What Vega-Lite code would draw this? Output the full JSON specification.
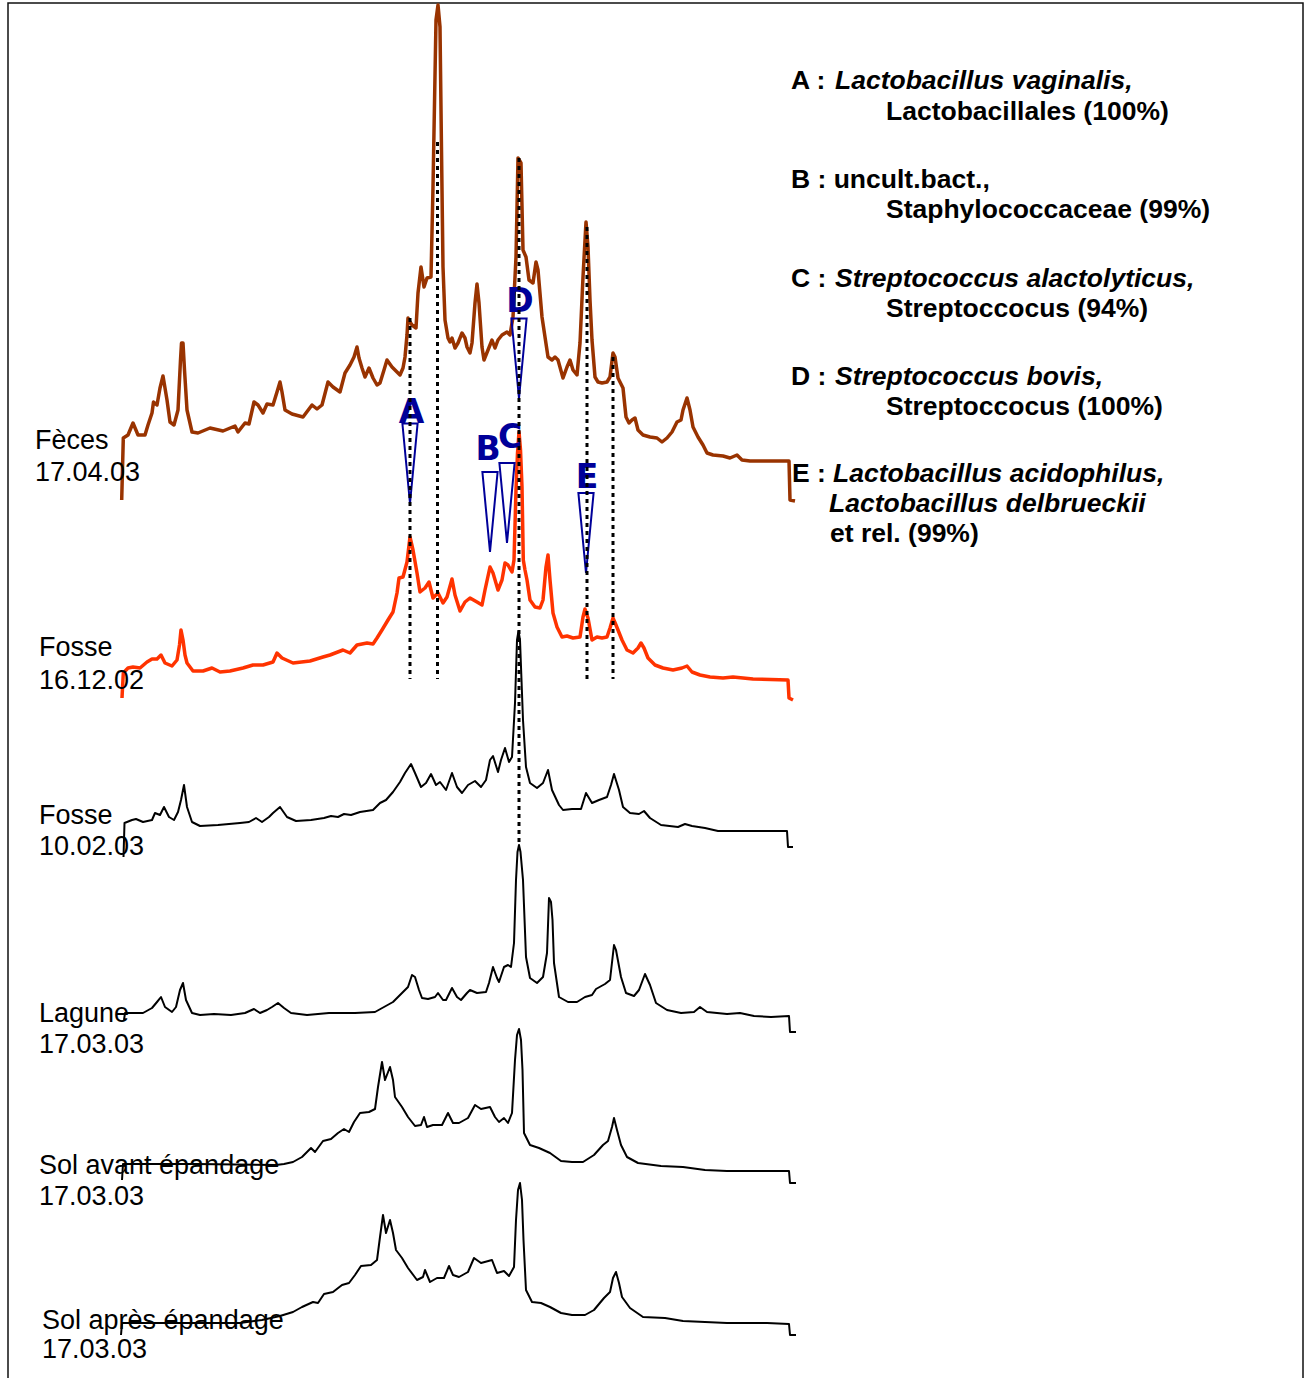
{
  "$schema": "https://vega.github.io/schema/vega-lite/v6.json",
  "width": 1295,
  "height": 1377,
  "padding": {"left": 8, "top": 3, "right": 6, "bottom": 0},
  "autosize": {"type": "none"},
  "background": "white",
  "config": {"view": {"stroke": "#111111", "strokeWidth": 1.5}},
  "datasets": {
    "feces": [
      {"mig":121.7,"level":500},{"mig":123.3,"level":438},{"mig":128,"level":435},{"mig":133,"level":423},{"mig":138,"level":435},{"mig":145,"level":435},{"mig":148,"level":425},{"mig":152,"level":413},{"mig":153.5,"level":402},{"mig":157,"level":405},{"mig":160,"level":388},{"mig":163,"level":376},{"mig":167,"level":400},{"mig":170,"level":422},{"mig":174,"level":425},{"mig":178,"level":410},{"mig":180.5,"level":360},{"mig":181.5,"level":343},{"mig":183,"level":343},{"mig":184.5,"level":370},{"mig":187,"level":410},{"mig":192,"level":432},{"mig":198,"level":433},{"mig":210,"level":428},{"mig":223,"level":431},{"mig":235,"level":426},{"mig":238,"level":432},{"mig":245,"level":423},{"mig":249,"level":424},{"mig":254,"level":402},{"mig":258,"level":405},{"mig":263,"level":413},{"mig":267,"level":404},{"mig":273,"level":405},{"mig":277,"level":392},{"mig":280,"level":382},{"mig":282,"level":392},{"mig":285,"level":410},{"mig":292,"level":414},{"mig":303,"level":417},{"mig":312,"level":405},{"mig":317,"level":409},{"mig":322,"level":405},{"mig":328,"level":382},{"mig":333,"level":387},{"mig":340,"level":392},{"mig":345,"level":373},{"mig":350,"level":365},{"mig":354,"level":357},{"mig":357,"level":347},{"mig":359,"level":358},{"mig":362,"level":368},{"mig":365,"level":377},{"mig":369,"level":368},{"mig":373,"level":378},{"mig":377,"level":385},{"mig":380,"level":383},{"mig":384,"level":370},{"mig":387,"level":360},{"mig":392,"level":367},{"mig":400,"level":375},{"mig":403,"level":368},{"mig":405,"level":357},{"mig":407,"level":335},{"mig":408,"level":318},{"mig":410,"level":322},{"mig":412,"level":325},{"mig":416,"level":328},{"mig":418,"level":293},{"mig":421,"level":267},{"mig":424,"level":287},{"mig":427,"level":278},{"mig":431,"level":277},{"mig":433,"level":187},{"mig":436,"level":20},{"mig":438,"level":5},{"mig":440,"level":27},{"mig":441.5,"level":150},{"mig":443,"level":267},{"mig":445,"level":320},{"mig":448,"level":338},{"mig":450,"level":342},{"mig":452,"level":338},{"mig":455,"level":348},{"mig":458,"level":343},{"mig":462,"level":333},{"mig":465,"level":338},{"mig":467,"level":347},{"mig":470,"level":353},{"mig":472,"level":343},{"mig":475,"level":303},{"mig":477,"level":284},{"mig":479,"level":303},{"mig":482,"level":347},{"mig":484,"level":360},{"mig":488,"level":350},{"mig":492,"level":340},{"mig":495,"level":348},{"mig":498,"level":340},{"mig":502,"level":335},{"mig":507,"level":332},{"mig":510,"level":335},{"mig":513,"level":317},{"mig":516,"level":257},{"mig":518,"level":158},{"mig":521,"level":163},{"mig":523,"level":250},{"mig":526,"level":257},{"mig":529,"level":280},{"mig":533,"level":283},{"mig":536,"level":262},{"mig":538,"level":270},{"mig":542,"level":317},{"mig":545,"level":337},{"mig":548,"level":357},{"mig":552,"level":360},{"mig":555,"level":357},{"mig":558,"level":360},{"mig":563,"level":378},{"mig":567,"level":367},{"mig":570,"level":360},{"mig":573,"level":370},{"mig":577,"level":375},{"mig":580,"level":343},{"mig":583,"level":277},{"mig":586,"level":222},{"mig":588,"level":247},{"mig":590,"level":300},{"mig":592,"level":340},{"mig":595,"level":377},{"mig":598,"level":382},{"mig":602,"level":383},{"mig":607,"level":382},{"mig":610,"level":377},{"mig":613,"level":353},{"mig":615,"level":357},{"mig":618,"level":378},{"mig":623,"level":388},{"mig":626,"level":417},{"mig":629,"level":423},{"mig":632,"level":420},{"mig":635,"level":418},{"mig":638,"level":430},{"mig":643,"level":435},{"mig":650,"level":437},{"mig":657,"level":438},{"mig":662,"level":442},{"mig":667,"level":438},{"mig":672,"level":432},{"mig":677,"level":422},{"mig":681,"level":420},{"mig":683,"level":410},{"mig":687,"level":398},{"mig":690,"level":410},{"mig":693,"level":427},{"mig":698,"level":437},{"mig":703,"level":445},{"mig":707,"level":453},{"mig":713,"level":455},{"mig":723,"level":456},{"mig":730,"level":458},{"mig":737,"level":455},{"mig":742,"level":460},{"mig":750,"level":461},{"mig":763,"level":461},{"mig":789,"level":461},{"mig":790,"level":500},{"mig":795,"level":501}
    ],
    "fosse1612": [
      {"mig":122,"level":698},{"mig":123.3,"level":673},{"mig":128,"level":668},{"mig":133,"level":667},{"mig":140,"level":668},{"mig":147,"level":662},{"mig":152,"level":659},{"mig":157,"level":659},{"mig":161,"level":655},{"mig":165,"level":663},{"mig":172,"level":666},{"mig":177,"level":660},{"mig":179.5,"level":645},{"mig":181,"level":630},{"mig":183,"level":640},{"mig":185,"level":655},{"mig":187,"level":663},{"mig":193,"level":671},{"mig":203,"level":671},{"mig":212,"level":668},{"mig":220,"level":672},{"mig":230,"level":671},{"mig":243,"level":668},{"mig":253,"level":665},{"mig":263,"level":665},{"mig":273,"level":662},{"mig":277,"level":653},{"mig":282,"level":658},{"mig":293,"level":663},{"mig":310,"level":661},{"mig":323,"level":657},{"mig":330,"level":655},{"mig":343,"level":650},{"mig":350,"level":653},{"mig":357,"level":645},{"mig":367,"level":643},{"mig":373,"level":644},{"mig":377,"level":638},{"mig":382,"level":630},{"mig":388,"level":620},{"mig":393,"level":612},{"mig":397,"level":593},{"mig":399,"level":578},{"mig":403,"level":577},{"mig":407,"level":562},{"mig":410,"level":537},{"mig":413,"level":550},{"mig":417,"level":573},{"mig":420,"level":592},{"mig":425,"level":588},{"mig":429,"level":582},{"mig":433,"level":598},{"mig":438,"level":593},{"mig":443,"level":603},{"mig":447,"level":597},{"mig":452,"level":579},{"mig":455,"level":595},{"mig":460,"level":611},{"mig":465,"level":602},{"mig":470,"level":598},{"mig":477,"level":602},{"mig":482,"level":605},{"mig":485,"level":590},{"mig":490,"level":567},{"mig":493,"level":573},{"mig":498,"level":590},{"mig":502,"level":580},{"mig":505,"level":563},{"mig":508,"level":565},{"mig":512,"level":572},{"mig":514,"level":560},{"mig":516,"level":490},{"mig":517.5,"level":453},{"mig":519,"level":432},{"mig":520.5,"level":450},{"mig":522,"level":487},{"mig":523.3,"level":560},{"mig":525,"level":570},{"mig":527,"level":580},{"mig":530,"level":600},{"mig":535,"level":607},{"mig":540,"level":608},{"mig":543,"level":600},{"mig":546,"level":567},{"mig":548,"level":555},{"mig":550,"level":580},{"mig":553,"level":613},{"mig":557,"level":627},{"mig":562,"level":637},{"mig":567,"level":636},{"mig":573,"level":638},{"mig":580,"level":637},{"mig":583,"level":617},{"mig":585,"level":609},{"mig":588,"level":618},{"mig":592,"level":640},{"mig":597,"level":637},{"mig":602,"level":638},{"mig":607,"level":637},{"mig":610,"level":628},{"mig":613,"level":618},{"mig":616,"level":625},{"mig":622,"level":640},{"mig":627,"level":650},{"mig":633,"level":653},{"mig":638,"level":648},{"mig":641,"level":643},{"mig":644,"level":648},{"mig":648,"level":658},{"mig":655,"level":665},{"mig":663,"level":668},{"mig":673,"level":670},{"mig":682,"level":668},{"mig":687,"level":666},{"mig":692,"level":672},{"mig":700,"level":675},{"mig":710,"level":677},{"mig":723,"level":678},{"mig":733,"level":677},{"mig":753,"level":679},{"mig":788,"level":680},{"mig":789,"level":698},{"mig":793,"level":700}
    ],
    "fosse1002": [
      {"mig":123.5,"level":857},{"mig":124.5,"level":823},{"mig":132,"level":820},{"mig":136,"level":819},{"mig":143,"level":822},{"mig":152,"level":820},{"mig":155,"level":813},{"mig":160,"level":815},{"mig":164,"level":807},{"mig":169,"level":817},{"mig":174,"level":820},{"mig":178,"level":812},{"mig":181,"level":800},{"mig":184,"level":785},{"mig":187,"level":807},{"mig":192,"level":822},{"mig":200,"level":826},{"mig":218,"level":825},{"mig":240,"level":823},{"mig":249,"level":822},{"mig":256,"level":818},{"mig":262,"level":822},{"mig":269,"level":817},{"mig":273,"level":813},{"mig":280,"level":807},{"mig":287,"level":817},{"mig":296,"level":821},{"mig":311,"level":820},{"mig":324,"level":818},{"mig":331,"level":816},{"mig":338,"level":817},{"mig":344,"level":814},{"mig":351,"level":815},{"mig":360,"level":812},{"mig":373,"level":810},{"mig":380,"level":803},{"mig":386,"level":800},{"mig":393,"level":792},{"mig":400,"level":782},{"mig":405,"level":773},{"mig":411,"level":764},{"mig":415,"level":773},{"mig":421,"level":787},{"mig":426,"level":783},{"mig":431,"level":774},{"mig":436,"level":785},{"mig":440,"level":782},{"mig":446,"level":790},{"mig":452,"level":773},{"mig":457,"level":787},{"mig":462,"level":793},{"mig":468,"level":785},{"mig":475,"level":781},{"mig":481,"level":787},{"mig":486,"level":780},{"mig":490,"level":760},{"mig":493,"level":756},{"mig":498,"level":772},{"mig":501,"level":760},{"mig":505,"level":748},{"mig":509,"level":762},{"mig":512,"level":757},{"mig":515,"level":703},{"mig":517,"level":640},{"mig":518.5,"level":631},{"mig":520,"level":640},{"mig":523,"level":720},{"mig":526,"level":767},{"mig":530,"level":783},{"mig":537,"level":788},{"mig":543,"level":783},{"mig":548,"level":770},{"mig":552,"level":790},{"mig":559,"level":805},{"mig":563,"level":810},{"mig":572,"level":809},{"mig":581,"level":809},{"mig":586,"level":793},{"mig":592,"level":803},{"mig":599,"level":800},{"mig":607,"level":797},{"mig":611,"level":785},{"mig":614,"level":774},{"mig":619,"level":790},{"mig":623,"level":807},{"mig":630,"level":813},{"mig":639,"level":814},{"mig":644,"level":811},{"mig":650,"level":818},{"mig":661,"level":825},{"mig":678,"level":827},{"mig":685,"level":824},{"mig":692,"level":826},{"mig":705,"level":828},{"mig":718,"level":831},{"mig":749,"level":831},{"mig":787,"level":831},{"mig":788,"level":847},{"mig":793,"level":847}
    ],
    "lagune": [
      {"mig":124,"level":1020},{"mig":125,"level":1013},{"mig":143,"level":1013},{"mig":152,"level":1008},{"mig":157,"level":1002},{"mig":161,"level":997},{"mig":165,"level":1007},{"mig":172,"level":1012},{"mig":176,"level":1007},{"mig":180,"level":990},{"mig":183,"level":983},{"mig":186,"level":1000},{"mig":192,"level":1013},{"mig":200,"level":1015},{"mig":214,"level":1014},{"mig":231,"level":1015},{"mig":245,"level":1013},{"mig":254,"level":1009},{"mig":260,"level":1013},{"mig":267,"level":1010},{"mig":272,"level":1007},{"mig":278,"level":1003},{"mig":284,"level":1008},{"mig":291,"level":1013},{"mig":307,"level":1015},{"mig":329,"level":1013},{"mig":355,"level":1013},{"mig":375,"level":1012},{"mig":384,"level":1007},{"mig":393,"level":1002},{"mig":402,"level":993},{"mig":408,"level":987},{"mig":412,"level":975},{"mig":415,"level":977},{"mig":419,"level":990},{"mig":422,"level":998},{"mig":428,"level":999},{"mig":435,"level":997},{"mig":438,"level":993},{"mig":443,"level":1000},{"mig":446,"level":1000},{"mig":452,"level":988},{"mig":457,"level":997},{"mig":461,"level":1000},{"mig":467,"level":993},{"mig":470,"level":990},{"mig":477,"level":993},{"mig":486,"level":992},{"mig":489,"level":983},{"mig":493,"level":967},{"mig":497,"level":978},{"mig":499,"level":982},{"mig":504,"level":967},{"mig":508,"level":965},{"mig":511,"level":967},{"mig":514,"level":943},{"mig":516,"level":880},{"mig":517.5,"level":852},{"mig":519,"level":845},{"mig":520.5,"level":852},{"mig":523,"level":880},{"mig":526,"level":957},{"mig":530,"level":978},{"mig":537,"level":983},{"mig":543,"level":977},{"mig":547,"level":953},{"mig":549,"level":898},{"mig":551,"level":902},{"mig":552.5,"level":920},{"mig":554,"level":963},{"mig":559,"level":997},{"mig":568,"level":1002},{"mig":577,"level":1002},{"mig":585,"level":997},{"mig":592,"level":995},{"mig":596,"level":989},{"mig":605,"level":984},{"mig":610,"level":980},{"mig":614,"level":945},{"mig":616,"level":950},{"mig":621,"level":977},{"mig":626,"level":993},{"mig":634,"level":996},{"mig":639,"level":990},{"mig":645,"level":974},{"mig":650,"level":985},{"mig":656,"level":1003},{"mig":667,"level":1010},{"mig":681,"level":1013},{"mig":694,"level":1012},{"mig":700,"level":1007},{"mig":707,"level":1012},{"mig":727,"level":1014},{"mig":740,"level":1013},{"mig":754,"level":1016},{"mig":771,"level":1017},{"mig":789,"level":1016},{"mig":790,"level":1032},{"mig":796,"level":1032}
    ],
    "solAvant": [
      {"mig":122,"level":1180},{"mig":123,"level":1164},{"mig":196,"level":1164},{"mig":276,"level":1165},{"mig":284,"level":1164},{"mig":293,"level":1162},{"mig":302,"level":1157},{"mig":311,"level":1148},{"mig":315,"level":1152},{"mig":323,"level":1141},{"mig":331,"level":1139},{"mig":338,"level":1133},{"mig":344,"level":1129},{"mig":349,"level":1132},{"mig":354,"level":1122},{"mig":360,"level":1113},{"mig":369,"level":1112},{"mig":375,"level":1109},{"mig":378,"level":1087},{"mig":382,"level":1062},{"mig":385,"level":1080},{"mig":390,"level":1067},{"mig":393,"level":1080},{"mig":395,"level":1097},{"mig":402,"level":1107},{"mig":408,"level":1117},{"mig":415,"level":1126},{"mig":421,"level":1125},{"mig":424,"level":1117},{"mig":427,"level":1127},{"mig":433,"level":1125},{"mig":442,"level":1125},{"mig":448,"level":1113},{"mig":453,"level":1123},{"mig":459,"level":1123},{"mig":468,"level":1118},{"mig":475,"level":1105},{"mig":481,"level":1109},{"mig":490,"level":1107},{"mig":495,"level":1117},{"mig":499,"level":1122},{"mig":504,"level":1118},{"mig":508,"level":1123},{"mig":512,"level":1113},{"mig":515,"level":1060},{"mig":517,"level":1035},{"mig":519,"level":1029},{"mig":521,"level":1040},{"mig":522.5,"level":1070},{"mig":524,"level":1133},{"mig":530,"level":1145},{"mig":539,"level":1148},{"mig":550,"level":1153},{"mig":561,"level":1161},{"mig":572,"level":1162},{"mig":583,"level":1162},{"mig":594,"level":1155},{"mig":603,"level":1145},{"mig":608,"level":1141},{"mig":612,"level":1127},{"mig":614,"level":1118},{"mig":617,"level":1130},{"mig":621,"level":1145},{"mig":627,"level":1157},{"mig":638,"level":1163},{"mig":661,"level":1166},{"mig":683,"level":1167},{"mig":705,"level":1170},{"mig":727,"level":1171},{"mig":767,"level":1171},{"mig":789,"level":1171},{"mig":790,"level":1183},{"mig":796,"level":1183}
    ],
    "solApres": [
      {"mig":121,"level":1335},{"mig":122,"level":1323},{"mig":240,"level":1323},{"mig":262,"level":1320},{"mig":280,"level":1316},{"mig":293,"level":1312},{"mig":302,"level":1307},{"mig":313,"level":1302},{"mig":318,"level":1303},{"mig":324,"level":1294},{"mig":333,"level":1292},{"mig":342,"level":1285},{"mig":349,"level":1283},{"mig":355,"level":1275},{"mig":361,"level":1266},{"mig":371,"level":1265},{"mig":377,"level":1260},{"mig":380,"level":1237},{"mig":383,"level":1215},{"mig":386,"level":1233},{"mig":390,"level":1220},{"mig":393,"level":1233},{"mig":396,"level":1250},{"mig":402,"level":1258},{"mig":408,"level":1268},{"mig":417,"level":1280},{"mig":423,"level":1277},{"mig":425,"level":1270},{"mig":430,"level":1282},{"mig":437,"level":1278},{"mig":444,"level":1278},{"mig":449,"level":1266},{"mig":453,"level":1275},{"mig":459,"level":1277},{"mig":468,"level":1272},{"mig":474,"level":1258},{"mig":481,"level":1263},{"mig":492,"level":1260},{"mig":497,"level":1273},{"mig":504,"level":1271},{"mig":509,"level":1276},{"mig":514,"level":1267},{"mig":516,"level":1220},{"mig":518,"level":1190},{"mig":520,"level":1183},{"mig":522,"level":1200},{"mig":523.5,"level":1240},{"mig":526,"level":1290},{"mig":532,"level":1302},{"mig":541,"level":1303},{"mig":550,"level":1307},{"mig":561,"level":1313},{"mig":572,"level":1315},{"mig":585,"level":1315},{"mig":594,"level":1310},{"mig":604,"level":1298},{"mig":610,"level":1292},{"mig":613,"level":1278},{"mig":616,"level":1272},{"mig":619,"level":1283},{"mig":622,"level":1297},{"mig":630,"level":1308},{"mig":643,"level":1317},{"mig":665,"level":1318},{"mig":683,"level":1321},{"mig":705,"level":1322},{"mig":727,"level":1323},{"mig":767,"level":1323},{"mig":789,"level":1324},{"mig":790,"level":1335},{"mig":796,"level":1335}
    ],
    "bandLines": [
      {"mig":410,"level":318,"level2":679},
      {"mig":437.5,"level":142,"level2":679},
      {"mig":519,"level":158,"level2":843},
      {"mig":587,"level":227,"level2":679},
      {"mig":613,"level":357,"level2":679}
    ],
    "bandMarkers": [
      {"band":"A","mig":410,"level":463.5},
      {"band":"B","mig":490,"level":512},
      {"band":"C","mig":507,"level":503},
      {"band":"D","mig":519,"level":358.5},
      {"band":"E","mig":586,"level":533}
    ],
    "bandLetters": [
      {"band":"A","mig":411.5,"level":423},
      {"band":"B","mig":488,"level":460},
      {"band":"C","mig":510,"level":448},
      {"band":"D","mig":520,"level":312},
      {"band":"E","mig":587,"level":488}
    ],
    "sampleNames": [
      {"label":"Fèces","mig":35,"level":449},
      {"label":"17.04.03","mig":35,"level":481},
      {"label":"Fosse","mig":39,"level":656},
      {"label":"16.12.02","mig":39,"level":689},
      {"label":"Fosse","mig":39,"level":824},
      {"label":"10.02.03","mig":39,"level":855},
      {"label":"Lagune","mig":39,"level":1022},
      {"label":"17.03.03","mig":39,"level":1053},
      {"label":"Sol avant épandage","mig":39,"level":1174},
      {"label":"17.03.03","mig":39,"level":1205},
      {"label":"Sol après épandage","mig":42,"level":1329},
      {"label":"17.03.03","mig":42,"level":1358}
    ],
    "keyUpright": [
      {"label":"A :","mig":791,"level":89},
      {"label":"Lactobacillales (100%)","mig":886,"level":120},
      {"label":"B : uncult.bact.,","mig":791,"level":188},
      {"label":"Staphylococcaceae (99%)","mig":886,"level":218},
      {"label":"C :","mig":791,"level":287},
      {"label":"Streptoccocus (94%)","mig":886,"level":317},
      {"label":"D :","mig":791,"level":385},
      {"label":"Streptoccocus (100%)","mig":886,"level":415},
      {"label":"E :","mig":792,"level":482},
      {"label":"et rel. (99%)","mig":830,"level":542}
    ],
    "keyItalic": [
      {"label":"Lactobacillus vaginalis,","mig":835,"level":89},
      {"label":"Streptococcus alactolyticus,","mig":835,"level":287},
      {"label":"Streptococcus bovis,","mig":835,"level":385},
      {"label":"Lactobacillus acidophilus,","mig":833,"level":482},
      {"label":"Lactobacillus delbrueckii","mig":829,"level":512}
    ]
  },
  "encoding": {
    "x": {"field": "mig", "type": "quantitative", "axis": null, "scale": {"domain": [8, 1303], "nice": false, "zero": false}},
    "y": {"field": "level", "type": "quantitative", "axis": null, "scale": {"domain": [3, 1380], "reverse": true, "nice": false, "zero": false}}
  },
  "layer": [
    {"data": {"name": "feces"}, "mark": {"type": "line", "color": "#993300", "strokeWidth": 3.5, "strokeJoin": "round"}},
    {"data": {"name": "fosse1612"}, "mark": {"type": "line", "color": "#ff3300", "strokeWidth": 3.5, "strokeJoin": "round"}},
    {"data": {"name": "fosse1002"}, "mark": {"type": "line", "color": "#000000", "strokeWidth": 2, "strokeJoin": "round"}},
    {"data": {"name": "lagune"}, "mark": {"type": "line", "color": "#000000", "strokeWidth": 2, "strokeJoin": "round"}},
    {"data": {"name": "solAvant"}, "mark": {"type": "line", "color": "#000000", "strokeWidth": 2, "strokeJoin": "round"}},
    {"data": {"name": "solApres"}, "mark": {"type": "line", "color": "#000000", "strokeWidth": 2, "strokeJoin": "round"}},
    {
      "data": {"name": "bandMarkers"},
      "mark": {"type": "point", "shape": "M-0.19,-1L0.19,-1L0,1Z", "size": 6400, "filled": false, "stroke": "#000099", "strokeWidth": 2, "opacity": 1}
    },
    {
      "data": {"name": "bandLetters"},
      "mark": {"type": "text", "font": "DejaVu Sans", "fontWeight": "bold", "fontSize": 33, "color": "#000099", "align": "center", "baseline": "alphabetic"},
      "encoding": {"text": {"field": "band"}}
    },
    {
      "data": {"name": "bandLines"},
      "mark": {"type": "rule", "color": "#000000", "strokeWidth": 3, "strokeDash": [4, 4]},
      "encoding": {"y2": {"field": "level2"}}
    },
    {
      "data": {"name": "sampleNames"},
      "mark": {"type": "text", "font": "Liberation Sans", "fontSize": 27, "color": "#000000", "align": "left", "baseline": "alphabetic"},
      "encoding": {"text": {"field": "label"}}
    },
    {
      "data": {"name": "keyUpright"},
      "mark": {"type": "text", "font": "Liberation Sans", "fontWeight": "bold", "fontSize": 26.5, "color": "#000000", "align": "left", "baseline": "alphabetic"},
      "encoding": {"text": {"field": "label"}}
    },
    {
      "data": {"name": "keyItalic"},
      "mark": {"type": "text", "font": "Liberation Sans", "fontWeight": "bold", "fontStyle": "italic", "fontSize": 26.5, "color": "#000000", "align": "left", "baseline": "alphabetic"},
      "encoding": {"text": {"field": "label"}}
    }
  ]
}
